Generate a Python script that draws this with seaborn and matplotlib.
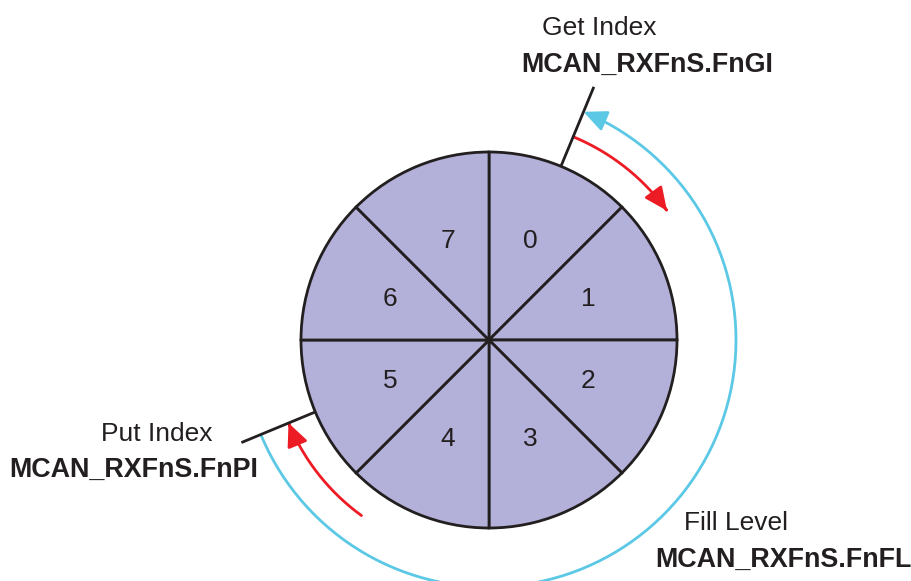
import numpy as np
import matplotlib.pyplot as plt
from matplotlib.patches import FancyArrowPatch
from matplotlib.path import Path
import seaborn as sns

# FIFO ring: 8 elements, numbered clockwise from 12 o'clock
segment_labels = ["0", "1", "2", "3", "4", "5", "6", "7"]
segment_sizes = [1, 1, 1, 1, 1, 1, 1, 1]

# pointer positions (element index the pointer sits on)
get_index_elem = 0
put_index_elem = 5

pointer_titles = ["Get Index", "Put Index", "Fill Level"]
pointer_regs = ["MCAN_RXFnS.FnGI", "MCAN_RXFnS.FnPI", "MCAN_RXFnS.FnFL"]

sns.set_theme(style="white")
plt.rcParams["font.family"] = ["Liberation Sans", "DejaVu Sans"]

ink = "#231f20"
fill = "#b3b1d9"
red = "#ed1c24"
blue = "#5bc8e6"

W, H = 911, 581
fig = plt.figure(figsize=(W / 100, H / 100), dpi=100)
ax = fig.add_axes([0, 0, 1, 1])

cx, cy, R = 489, 241, 188

ax.pie(segment_sizes, radius=R, center=(cx, cy), startangle=90, counterclock=False,
       colors=[fill] * len(segment_sizes),
       wedgeprops=dict(edgecolor=ink, linewidth=2.0))

step = 360 / len(segment_labels)


def mid_angle(i):
    return np.deg2rad(90 - step * (i + 0.5))


for i, lab in enumerate(segment_labels):
    a = mid_angle(i)
    ax.text(cx + 107 * np.cos(a), cy + 107 * np.sin(a), lab, ha="center", va="center",
            fontsize=19, color=ink)

# pointer ticks
for elem, r_out in [(get_index_elem, 274), (put_index_elem, 268)]:
    a = mid_angle(elem)
    ax.plot([cx + R * np.cos(a), cx + r_out * np.cos(a)],
            [cy + R * np.sin(a), cy + r_out * np.sin(a)], color=ink, lw=2.0,
            solid_capstyle="butt")


def arc_arrow(r, a0, a1, color, lw=2.0, head=True):
    t = np.linspace(np.deg2rad(a0), np.deg2rad(a1), 200)
    verts = np.column_stack([cx + r * np.cos(t), cy + r * np.sin(t)])
    style = "-|>,head_length=7,head_width=3.2" if head else "-"
    p = FancyArrowPatch(path=Path(verts), arrowstyle=style, color=color, lw=lw,
                        mutation_scale=2, shrinkA=0, shrinkB=0)
    ax.add_patch(p)


ga = np.rad2deg(mid_angle(get_index_elem))
pa = np.rad2deg(mid_angle(put_index_elem)) + 360
# get index advances
arc_arrow(220, ga, 36, red)
# put index advances
arc_arrow(217, 234, pa, red)
# fill level: from put index around to get index
arc_arrow(247, pa, ga + 360, blue)

txt = dict(color=ink, va="baseline")
ax.text(599, H - 35, pointer_titles[0], ha="center", fontsize=19, **txt)
ax.text(647, H - 72, pointer_regs[0], ha="center", fontweight="bold", fontsize=19.4, **txt)
ax.text(157, H - 441, pointer_titles[1], ha="center", fontsize=19, **txt)
ax.text(134, H - 477, pointer_regs[1], ha="center", fontweight="bold", fontsize=19.4, **txt)
ax.text(736, H - 530, pointer_titles[2], ha="center", fontsize=19, **txt)
ax.text(783, H - 567, pointer_regs[2], ha="center", fontweight="bold", fontsize=19.4, **txt)

ax.set_xlim(0, W)
ax.set_ylim(0, H)
ax.set_aspect("equal")
ax.axis("off")

fig.savefig("out.png", dpi=100)
